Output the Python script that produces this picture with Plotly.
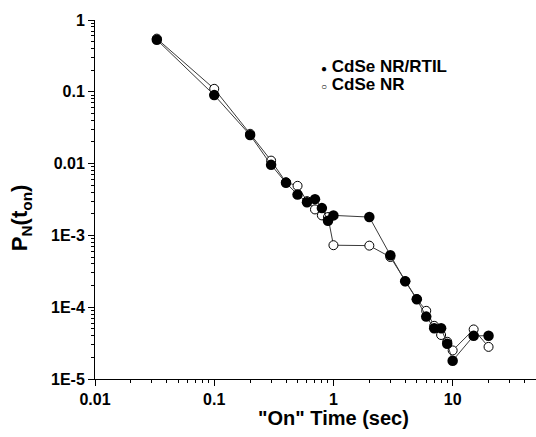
import plotly.graph_objects as go

# On-time values (sec)
t_rtil = [0.033, 0.1, 0.2, 0.3, 0.4, 0.5, 0.6, 0.7, 0.8, 0.9, 1, 2, 3, 4, 5, 6, 7, 8, 9, 10, 15, 20]
p_rtil = [0.53, 0.09, 0.025, 0.0096, 0.0054, 0.0037, 0.0029, 0.0032, 0.0024, 0.0016, 0.0019,
          0.0018, 0.00053, 0.00023, 0.000129, 7.4e-5, 5.1e-5, 5.1e-5, 3.1e-5, 1.8e-5, 4.0e-5, 4.0e-5]

t_nr = [0.033, 0.1, 0.2, 0.3, 0.4, 0.5, 0.6, 0.7, 0.8, 0.9, 1, 2, 3, 4, 5, 6, 7, 8, 9, 10, 15, 20]
p_nr = [0.55, 0.11, 0.026, 0.011, 0.0055, 0.0049, 0.0030, 0.0023, 0.0019, 0.0018, 0.00073,
        0.00072, 0.00050, 0.00023, 0.00013, 8.9e-5, 5.5e-5, 4.1e-5, 3.3e-5, 2.5e-5, 4.9e-5, 2.8e-5]

y_tickvals = [1e-5, 1e-4, 1e-3, 0.01, 0.1, 1]
y_ticktext = ["1E-5", "1E-4", "1E-3", "0.01", "0.1", "1"]
x_tickvals = [0.01, 0.1, 1, 10]
x_ticktext = ["0.01", "0.1", "1", "10"]
x_minor = [m * d for d in [0.01, 0.1, 1, 10] for m in range(2, 10) if m * d <= 50]
y_minor = [m * d for d in [1e-5, 1e-4, 1e-3, 0.01, 0.1] for m in range(2, 10)]

legend_labels = ["CdSe NR/RTIL", "CdSe NR"]
legend_symbols = ["●", "○"]
x_title = '"On" Time (sec)'
y_title = "P<sub>N</sub>(t<sub>on</sub>)"

FONT = "Liberation Sans, Arial, sans-serif"

fig = go.Figure()
fig.add_trace(go.Scatter(
    x=t_nr, y=p_nr, mode="lines+markers", name="CdSe NR", showlegend=False,
    line=dict(color="#3a3a3a", width=1),
    marker=dict(symbol="circle", size=9, color="white", line=dict(color="black", width=1)),
))
fig.add_trace(go.Scatter(
    x=t_rtil, y=p_rtil, mode="lines+markers", name="CdSe NR/RTIL", showlegend=False,
    line=dict(color="#3a3a3a", width=1),
    marker=dict(symbol="circle", size=10.5, color="black", line=dict(color="black", width=0)),
))

axis_common = dict(
    showline=True, linecolor="black", linewidth=1, mirror=False,
    showgrid=False, zeroline=False,
    ticks="outside", ticklen=6, tickwidth=1, tickcolor="black",
    tickfont=dict(family=FONT, size=16, color="black", weight="bold"),
)

fig.update_xaxes(
    type="log", range=[-2, 1.699],
    tickvals=x_tickvals, ticktext=x_ticktext,
    minor=dict(tickmode="array", tickvals=x_minor, ticks="outside", ticklen=3,
               tickcolor="black", showgrid=False),
    **axis_common,
)
fig.update_yaxes(
    type="log", range=[-5, 0],
    tickvals=y_tickvals, ticktext=y_ticktext,
    minor=dict(tickmode="array", tickvals=y_minor, ticks="outside", ticklen=3,
               tickcolor="black", showgrid=False),
    **axis_common,
)

# axis titles as annotations
fig.add_annotation(
    xref="paper", yref="paper", x=0.54, y=-0.109, xanchor="center", yanchor="middle",
    text=f"<b>{x_title}</b>", showarrow=False,
    font=dict(family=FONT, size=20, color="black"),
)
fig.add_annotation(
    xref="paper", yref="paper", x=-0.166, y=0.45, xanchor="center", yanchor="middle",
    text=f"<b>{y_title}</b>", showarrow=False, textangle=-90,
    font=dict(family=FONT, size=22, color="black"),
)

# legend drawn as text annotations
leg_x = 0.508
leg_y = [0.87, 0.82]
for sym, lab, yy in zip(legend_symbols, legend_labels, leg_y):
    fig.add_annotation(
        xref="paper", yref="paper", x=leg_x, y=yy, xanchor="left", yanchor="middle",
        text=f"<span style='font-size:10px'>{sym}</span> <b>{lab}</b>",
        showarrow=False, font=dict(family=FONT, size=17, color="black"),
    )

fig.update_layout(
    width=536, height=437,
    margin=dict(l=95, r=0, t=20, b=58),
    plot_bgcolor="white", paper_bgcolor="white",
    showlegend=False,
)

fig.write_html("out.html")
